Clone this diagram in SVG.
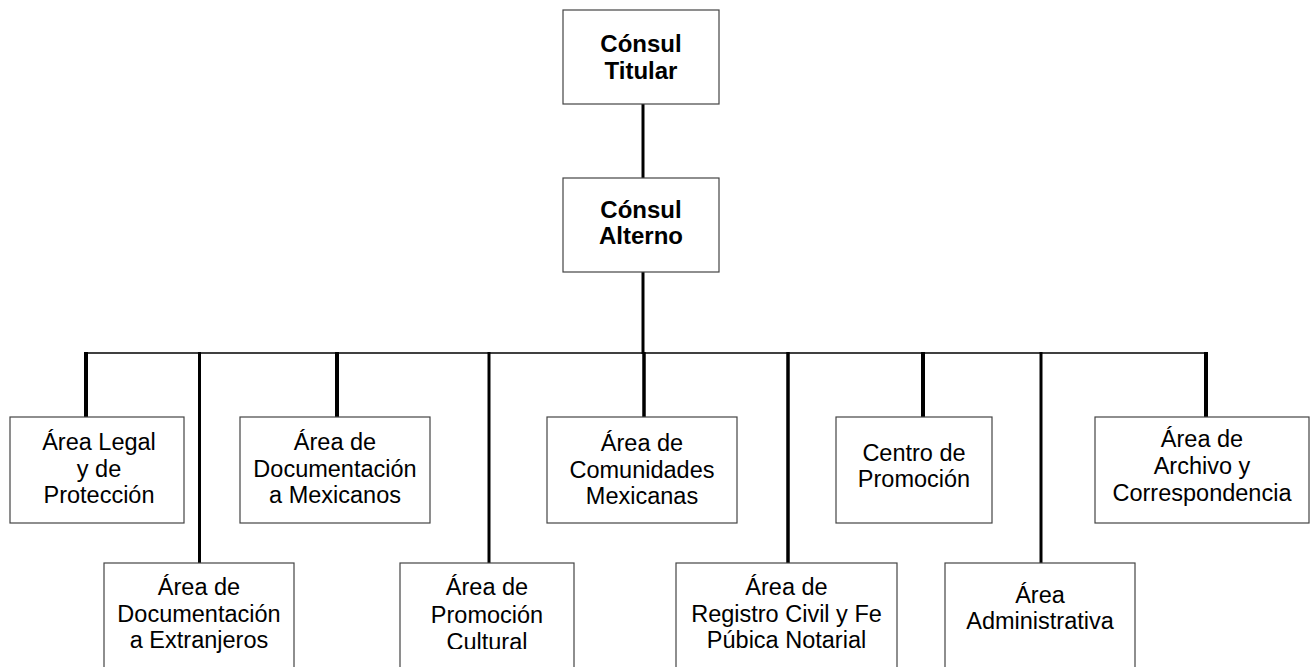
<svg xmlns="http://www.w3.org/2000/svg" width="1310" height="667" viewBox="0 0 1310 667">
<style>
.box{fill:#fff;stroke:#444;stroke-width:1.2}
.t{font-family:"Liberation Sans",Arial,sans-serif;font-size:23.5px;fill:#000;text-anchor:middle}
.b{font-weight:bold;font-size:24px}
.c{stroke:#000;fill:none}
</style>
<defs>
<clipPath id="clipCult"><rect x="400" y="563" width="175" height="86"/></clipPath>
</defs>
<rect width="1310" height="667" fill="#fff"/>
<g id="connectors">
<line class="c" x1="643" y1="104" x2="643" y2="178" stroke-width="3"/>
<line class="c" x1="643" y1="272" x2="643" y2="354" stroke-width="3"/>
<line class="c" x1="86" y1="353" x2="1207" y2="353" stroke-width="1.5"/>
<line class="c" x1="86" y1="352" x2="86" y2="417" stroke-width="4"/>
<line class="c" x1="199.5" y1="352" x2="199.5" y2="563" stroke-width="3"/>
<line class="c" x1="337" y1="352" x2="337" y2="417" stroke-width="4"/>
<line class="c" x1="489" y1="352" x2="489" y2="563" stroke-width="3"/>
<line class="c" x1="644" y1="352" x2="644" y2="417" stroke-width="3.5"/>
<line class="c" x1="788" y1="352" x2="788" y2="563" stroke-width="3.5"/>
<line class="c" x1="923" y1="352" x2="923" y2="417" stroke-width="4"/>
<line class="c" x1="1041" y1="352" x2="1041" y2="563" stroke-width="3"/>
<line class="c" x1="1206" y1="352" x2="1206" y2="417" stroke-width="4"/>
</g>
<g id="consul-titular">
<rect class="box" x="563" y="10" width="156" height="94"/>
<text class="t b" x="641" y="52">Cónsul</text>
<text class="t b" x="641" y="79">Titular</text>
</g>
<g id="consul-alterno">
<rect class="box" x="563" y="178" width="156" height="94"/>
<text class="t b" x="641" y="218">Cónsul</text>
<text class="t b" x="641" y="244">Alterno</text>
</g>
<g id="area-legal">
<rect class="box" x="10" y="417" width="174" height="106"/>
<text class="t" x="99" y="450">Área Legal</text>
<text class="t" x="99" y="476.5">y de</text>
<text class="t" x="99" y="503">Protección</text>
</g>
<g id="doc-mexicanos">
<rect class="box" x="240" y="417" width="190" height="106"/>
<text class="t" x="335" y="450">Área de</text>
<text class="t" x="335" y="476.5">Documentación</text>
<text class="t" x="335" y="503">a Mexicanos</text>
</g>
<g id="comunidades">
<rect class="box" x="547" y="417" width="190" height="106"/>
<text class="t" x="642" y="450.5">Área de</text>
<text class="t" x="642" y="477.5">Comunidades</text>
<text class="t" x="642" y="504">Mexicanas</text>
</g>
<g id="centro-promocion">
<rect class="box" x="836" y="417" width="156" height="106"/>
<text class="t" x="914" y="460.5">Centro de</text>
<text class="t" x="914" y="487">Promoción</text>
</g>
<g id="archivo">
<rect class="box" x="1095" y="417" width="214" height="106"/>
<text class="t" x="1202" y="446.5">Área de</text>
<text class="t" x="1202" y="474">Archivo y</text>
<text class="t" x="1202" y="501">Correspondencia</text>
</g>
<g id="doc-extranjeros">
<rect class="box" x="104" y="563" width="190" height="120"/>
<text class="t" x="199" y="595">Área de</text>
<text class="t" x="199" y="621.5">Documentación</text>
<text class="t" x="199" y="648">a Extranjeros</text>
</g>
<g id="promocion-cultural">
<rect class="box" x="400" y="563" width="174" height="120"/>
<text class="t" x="487" y="595">Área de</text>
<text class="t" x="487" y="623">Promoción</text>
<text class="t" x="487" y="650" clip-path="url(#clipCult)">Cultural</text>
</g>
<g id="registro-civil">
<rect class="box" x="676" y="563" width="221" height="120"/>
<text class="t" x="786.5" y="595">Área de</text>
<text class="t" x="786.5" y="621.5">Registro Civil y Fe</text>
<text class="t" x="786.5" y="648">Púbica Notarial</text>
</g>
<g id="administrativa">
<rect class="box" x="945" y="563" width="190" height="120"/>
<text class="t" x="1040" y="603">Área</text>
<text class="t" x="1040" y="629">Administrativa</text>
</g>
</svg>
